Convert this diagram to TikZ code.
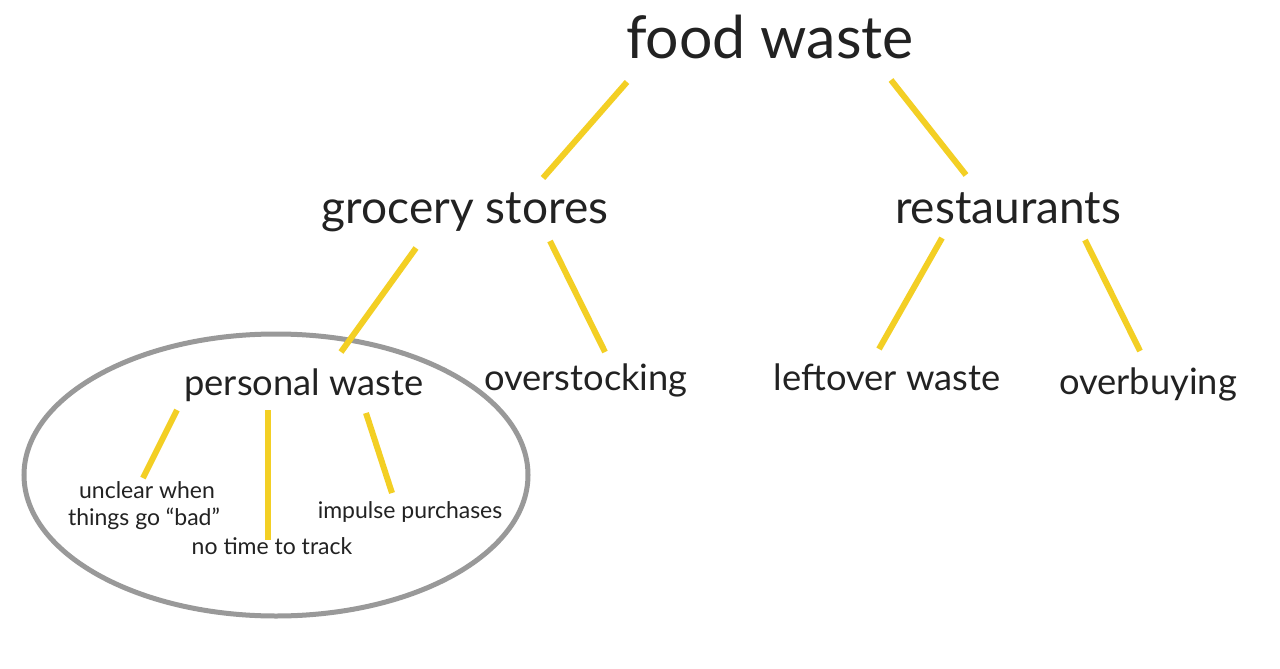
\documentclass[tikz,border=0pt]{standalone}
\usepackage{fontspec}
\setmainfont{Lato}
\usetikzlibrary{shapes.geometric}
\definecolor{txt}{HTML}{222222}
\definecolor{gold}{HTML}{F3CF24}
\definecolor{ring}{HTML}{999999}
\tikzset{
  lbl/.style={text=txt, inner sep=0pt, anchor=base},
  huge/.style={lbl, font=\fontsize{59}{62}\selectfont},
  big/.style={lbl, font=\fontsize{46}{50}\selectfont},
  mid/.style={lbl, font=\fontsize{36.3}{40}\selectfont},
  small/.style={lbl, font=\fontsize{23}{27}\selectfont},
  link/.style={draw=gold, line width=6pt},
  group/.style={draw=ring, line width=5pt, ellipse, minimum width=504pt, minimum height=282pt, inner sep=0pt}
}
\begin{document}
\begin{tikzpicture}[x=1pt,y=-1pt]
\useasboundingbox (0,0) rectangle (1280,669);
\fill[white] (0,0) rectangle (1280,669);
% group ellipse
\node[group] (grp) at (276,475) {};
% labels
\node[huge] (food) at (770,59) {food waste};
\node[big] (groc) at (465,223) {grocery stores};
\node[big] (rest) at (1008,223) {restaurants};
\node[mid] (pers) at (304,395) {personal waste};
\node[mid] (over) at (586,390) {overstocking};
\node[mid] (left) at (887,390) {leftover waste};
\node[mid] (buy) at (1148,394) {overbuying};
\node[small] (uncl1) at (147,498) {unclear when};
\node[small] (uncl2) at (144,525) {things go “bad”};
\node[small] (notime) at (272,554) {no time to track};
\node[small] (impu) at (410,518) {impulse purchases};
% connector ends
\coordinate (f1) at (627,82);   \coordinate (g1) at (543,178);
\coordinate (f2) at (891,80);   \coordinate (r1) at (966,175);
\coordinate (g2) at (416,248);  \coordinate (p1) at (341,352);
\coordinate (g3) at (550,241);  \coordinate (o1) at (605,352);
\coordinate (r2) at (942,238);  \coordinate (l1) at (879,349);
\coordinate (r3) at (1085,240); \coordinate (b1) at (1140,351);
\coordinate (p2) at (177,410);  \coordinate (u1) at (143,478);
\coordinate (p3) at (268,410);  \coordinate (n1) at (268,540);
\coordinate (p4) at (366,413);  \coordinate (i1) at (392,493);
\draw[link] (f1) -- (g1);
\draw[link] (f2) -- (r1);
\draw[link] (g2) -- (p1);
\draw[link] (g3) -- (o1);
\draw[link] (r2) -- (l1);
\draw[link] (r3) -- (b1);
\draw[link] (p2) -- (u1);
\draw[link] (p3) -- (n1);
\draw[link] (p4) -- (i1);
\end{tikzpicture}
\end{document}
